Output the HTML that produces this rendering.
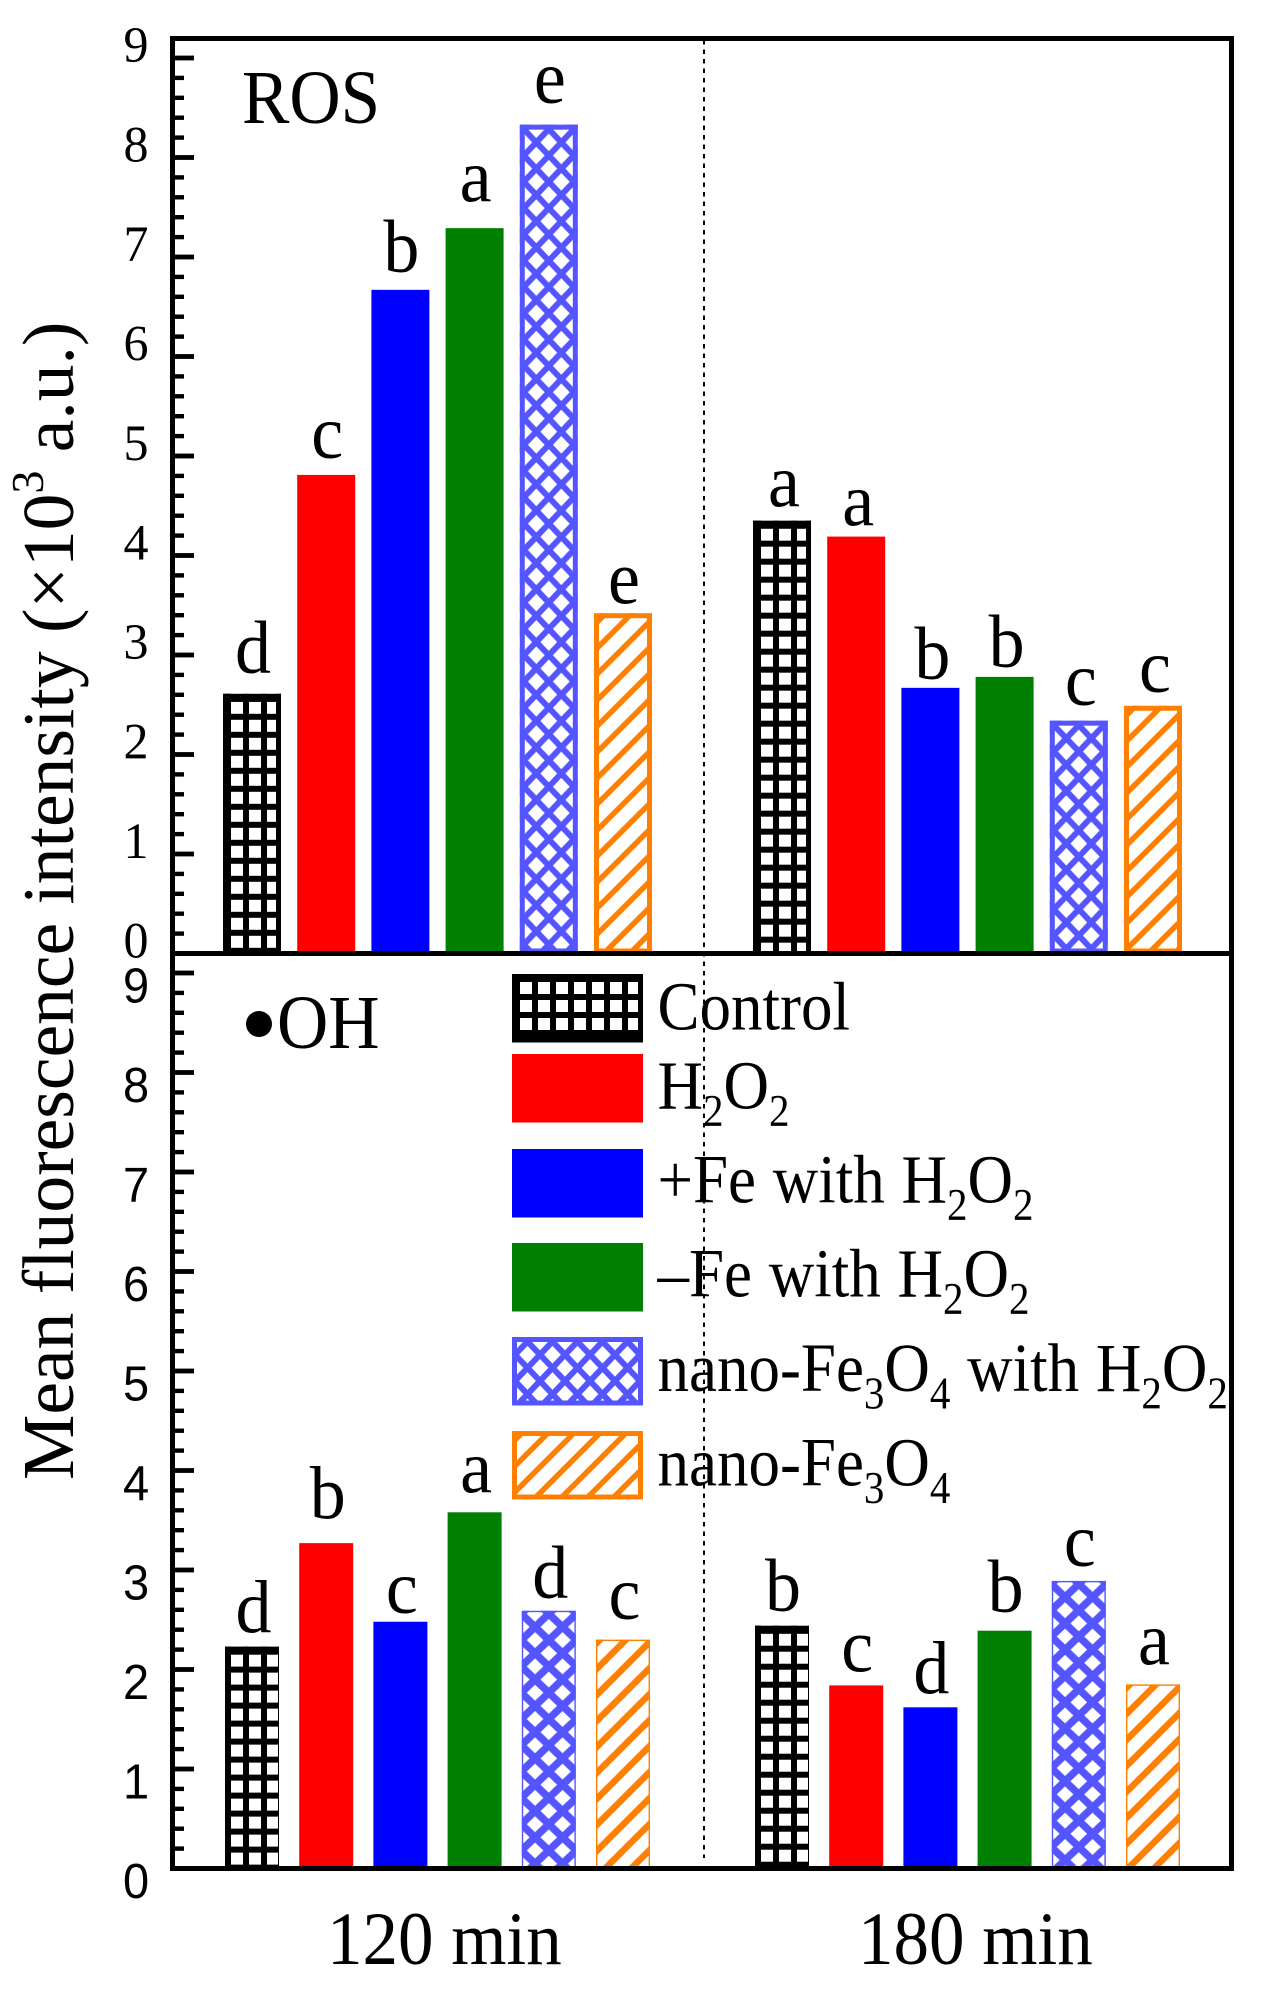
<!DOCTYPE html>
<html lang="en">
<head>
<meta charset="utf-8">
<title>Mean fluorescence intensity: ROS and OH</title>
<style>
html,body{margin:0;padding:0;background:#fff;}
#chart{display:block;width:1262px;height:1990px;}
text{font-family:"Liberation Serif",serif;fill:#000;}
.sans{font-family:"Liberation Sans",sans-serif;}
.leg{font-size:63px;word-spacing:1px;}
.sub{font-size:41px;}
</style>
</head>
<body>
<svg id="chart" xmlns="http://www.w3.org/2000/svg" width="1262" height="1990" viewBox="0 0 1262 1990">
  <rect x="0" y="0" width="1262" height="1990" fill="#fff"/>
  <defs id="defs"></defs>
  <g id="bars"></g>
  <g id="letters"></g>
  <line x1="704" y1="40" x2="704" y2="1858" stroke="#000" stroke-width="2" stroke-dasharray="4.5 5"/>
  <g id="axes"></g>
  <rect x="172.5" y="38.5" width="1059" height="1830" fill="none" stroke="#000" stroke-width="5"/>
  <rect x="170" y="951" width="1064" height="5" fill="#000"/>

  <text transform="translate(73,1480) rotate(-90)" font-size="73.5">Mean fluorescence intensity (×10<tspan font-size="46" dy="-30">3</tspan><tspan dy="30"> a.u.)</tspan></text>

  <text transform="translate(242,123) scale(1,1.07)" font-size="71">ROS</text>
  <circle cx="259" cy="1024" r="13" fill="#000"/>
  <text transform="translate(277,1048) scale(1,1.07)" font-size="71">OH</text>

  <text transform="translate(327,1964) scale(1,1.06)" font-size="71">120 min</text>
  <text transform="translate(858,1964) scale(1,1.06)" font-size="71">180 min</text>

  <g id="legend-swatches"></g>
  <g>
    <text class="leg" transform="translate(657.5,1029.5) scale(1,1.1)">Control</text>
    <text class="leg" transform="translate(657.5,1108.5) scale(1,1.1)">H<tspan class="sub" dy="16">2</tspan><tspan dy="-16">O</tspan><tspan class="sub" dy="16">2</tspan></text>
    <text class="leg" transform="translate(657.5,1202.5) scale(1,1.1)">+Fe with H<tspan class="sub" dy="16">2</tspan><tspan dy="-16">O</tspan><tspan class="sub" dy="16">2</tspan></text>
    <text class="leg" transform="translate(657.5,1296.5) scale(1,1.1)">–Fe with H<tspan class="sub" dy="16">2</tspan><tspan dy="-16">O</tspan><tspan class="sub" dy="16">2</tspan></text>
    <text class="leg" transform="translate(657.5,1391) scale(1,1.1)">nano-Fe<tspan class="sub" dy="16">3</tspan><tspan dy="-16">O</tspan><tspan class="sub" dy="16">4</tspan><tspan dy="-16"> with H</tspan><tspan class="sub" dy="16">2</tspan><tspan dy="-16">O</tspan><tspan class="sub" dy="16">2</tspan></text>
    <text class="leg" transform="translate(657.5,1485.5) scale(1,1.1)">nano-Fe<tspan class="sub" dy="16">3</tspan><tspan dy="-16">O</tspan><tspan class="sub" dy="16">4</tspan></text>
  </g>
</svg>
<script>
// ---- data ----
const treatments = ['control', 'h2o2', 'plus-fe', 'minus-fe', 'nano-h2o2', 'nano'];
const times = ['120', '180'];
const rosValues120 = [2.61, 4.81, 6.67, 7.29, 8.33, 3.42];
const rosValues180 = [4.35, 4.19, 2.67, 2.78, 2.34, 2.49];
const ohValues120 = [2.23, 3.27, 2.48, 3.58, 2.59, 2.30];
const ohValues180 = [2.44, 1.84, 1.62, 2.39, 2.89, 1.85];
const rosLetters120 = ['d', 'c', 'b', 'a', 'e', 'e'];
const rosLetters180 = ['a', 'a', 'b', 'b', 'c', 'c'];
const ohLetters120 = ['d', 'b', 'c', 'a', 'd', 'c'];
const ohLetters180 = ['b', 'c', 'd', 'b', 'c', 'a'];
// height of each significance letter above its bar, in axis units
const rosLift120 = [0.21, 0.17, 0.18, 0.27, 0.22, 0.10];
const rosLift180 = [0.14, 0.11, 0.09, 0.10, 0.16, 0.14];
const ohLift120 = [0.14, 0.25, 0.09, 0.20, 0.13, 0.21];
const ohLift180 = [0.15, 0.14, 0.14, 0.19, 0.15, 0.20];
const yTickLabels = ['0', '1', '2', '3', '4', '5', '6', '7', '8', '9'];

// ---- axis functions ----
const NS = 'http://www.w3.org/2000/svg';
const UNIT = 99.5;
const rosY = v => 953.5 - v * UNIT;
const ohY = v => 1868.5 - v * UNIT;
const PITCH = 74.2;
const colors = ['#000000', '#ff0000', '#0000ff', '#008000', '#5555ff', '#ff8000'];
const defs = document.getElementById('defs');
let patternId = 0;

function make(tag, attrs) {
  const e = document.createElementNS(NS, tag);
  for (const k in attrs) e.setAttribute(k, attrs[k]);
  return e;
}
function addPattern(x, y, w, h, content) {
  const id = 'pat' + (patternId++);
  const p = make('pattern', {id: id, patternUnits: 'userSpaceOnUse', x: x, y: y, width: w, height: h});
  p.innerHTML = content;
  defs.appendChild(p);
  return 'url(#' + id + ')';
}
function gridPaint(x, y) {
  return addPattern(x, y, 18, 18, '<rect width="18" height="18" fill="#000"/><rect width="12" height="12" fill="#fff"/>');
}
function crossPaint(x, y, w, h, sw) {
  let d = '';
  for (let i = -1; i <= 1; i++) {
    d += 'M' + (i * w - w) + ' ' + (-h) + 'L' + (i * w + 2 * w) + ' ' + (2 * h);
    d += 'M' + (i * w + 2 * w) + ' ' + (-h) + 'L' + (i * w - w) + ' ' + (2 * h);
  }
  return addPattern(x, y, w, h, '<rect width="' + w + '" height="' + h + '" fill="#fff"/><path d="' + d + '" stroke="#5555ff" stroke-width="' + sw + '" fill="none"/>');
}
function hatchPaint(x, y, t, c, sw) {
  let d = '';
  for (let k = -2; k <= 2; k++) {
    const s = c + k * t;
    d += 'M' + (s - 2 * t) + ' ' + (2 * t) + 'L' + (s + 2 * t) + ' ' + (-2 * t);
  }
  return addPattern(x, y, t, t, '<rect width="' + t + '" height="' + t + '" fill="#fff"/><path d="' + d + '" stroke="#ff8000" stroke-width="' + sw + '" fill="none"/>');
}
// draws one treatment mark into a group; thick = heavy outline style (upper panel, legend)
function drawMark(g, t, x, top, w, h, thick, bottomBand) {
  const solid = colors[t];
  const addBand = (bx, by, bw, bh) => {
    if (bw > 0 && bh > 0) g.appendChild(make('rect', {x: bx, y: by, width: bw, height: bh, fill: solid}));
  };
  if (t === 1 || t === 2 || t === 3) {
    g.appendChild(make('rect', {x: x, y: top, width: w, height: h, fill: solid}));
    return;
  }
  if (t === 0) {
    const left = thick ? 8 : 6;
    const right = thick ? 5 : 1;
    g.appendChild(make('rect', {x: x, y: top, width: w, height: h, fill: gridPaint(x + left, top + 8)}));
    addBand(x, top, w, 8);
    addBand(x, top, left, h);
    addBand(x + w - right, top, right, h);
    addBand(x, top + h - bottomBand, w, bottomBand);
    return;
  }
  let paint;
  if (t === 4) {
    paint = thick ? crossPaint(x + w / 2 - 12.5, top + 17.7, 25, 26.3, 6)
                  : crossPaint(x + w / 2, top + 3, 27.5, 26.3, 7.5);
  } else {
    paint = thick ? hatchPaint(x, top, 26, 12, 5.5) : hatchPaint(x, top, 26, 4, 6.5);
  }
  g.appendChild(make('rect', {x: x, y: top, width: w, height: h, fill: paint}));
  const b = thick ? 5 : 1.4;
  g.appendChild(make('rect', {x: x + b / 2, y: top + b / 2, width: w - b, height: h - b, fill: 'none', stroke: solid, 'stroke-width': b}));
}

const barsLayer = document.getElementById('bars');
const lettersLayer = document.getElementById('letters');

function drawSeries(panel, time, values, letters, lifts, yScale, start, width, thick, letterShift) {
  values.forEach((v, i) => {
    const x = start + i * PITCH;
    const top = yScale(v);
    const g = make('g', {});
    
    
    drawMark(g, i, x, top, width, yScale(0) - top, thick, 0);
    barsLayer.appendChild(g);

    const base = top - lifts[i] * UNIT;
    const label = make('text', {
      'text-anchor': 'middle',
      'font-size': 72,
      transform: 'translate(' + (x + width / 2 + letterShift) + ',' + base + ') scale(1,1.05)'
    });
    
    
    label.textContent = letters[i];
    lettersLayer.appendChild(label);
  });
}
drawSeries('ros', times[0], rosValues120, rosLetters120, rosLift120, rosY, 223, 58, true, 1);
drawSeries('ros', times[1], rosValues180, rosLetters180, rosLift180, rosY, 753, 58, true, 2);
drawSeries('oh', times[0], ohValues120, ohLetters120, ohLift120, ohY, 225, 54, false, 1.5);
drawSeries('oh', times[1], ohValues180, ohLetters180, ohLift180, ohY, 755, 54, false, 1);

// ---- axes ----
const axes = document.getElementById('axes');
function drawAxis(panel, yScale, serif) {
  yTickLabels.forEach((lab, idx) => {
    const v = Number(lab);
    const major = make('rect', {x: 175, y: yScale(v) - 2.4, width: 19, height: 4.8, fill: '#000'});
    
    
    axes.appendChild(major);
    if (idx < yTickLabels.length - 1) {
      for (let m = 1; m < 5; m++) {
        const minor = make('rect', {x: 175, y: yScale(v + m * 0.2) - 2.2, width: 9, height: 4.4, fill: '#000'});
        
        
        axes.appendChild(minor);
      }
    }
    const t = make('text', {
      'text-anchor': 'middle',
      'font-size': serif ? 50 : 47,
      transform: 'translate(136,' + (yScale(v) + (serif ? 4 : 29.5)) + ') scale(1,' + (serif ? 1.02 : 1.05) + ')'
    });
    if (!serif) t.setAttribute('class', 'sans');
    
    
    t.textContent = lab;
    axes.appendChild(t);
  });
}
drawAxis('ros', rosY, true);
drawAxis('oh', ohY, false);

// ---- legend swatches ----
const swatches = document.getElementById('legend-swatches');
const legendTops = [974, 1054, 1149, 1243, 1337, 1431];
treatments.forEach((name, i) => {
  const g = make('g', {});
  
  
  drawMark(g, i, 512, legendTops[i], 131, 68.5, true, 10);
  swatches.appendChild(g);
});
</script>
</body>
</html>
